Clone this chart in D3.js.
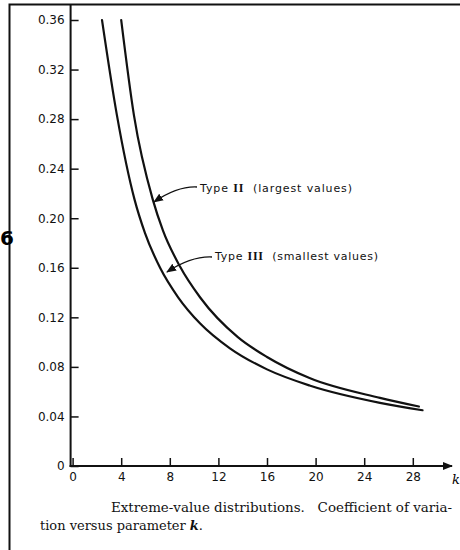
<!DOCTYPE html>
<html>
<head>
<meta charset="utf-8">
<script src="https://cdn.jsdelivr.net/npm/d3@7"></script>
<style>
  body { margin: 0; background: #fff; }
  svg { display: block; }
  .tick text { font-family: "DejaVu Sans", sans-serif; font-size: 12px; fill: #111; }
</style>
</head>
<body>
<svg id="chart" width="460" height="550"></svg>
<script>
// values
const typeIIk   = [4.0, 5.05, 6.6, 7.44, 8.84, 10.5, 13.6, 16, 19.5, 25.3, 28.5]
const typeIIcv  = [0.36, 0.283, 0.215, 0.19, 0.161, 0.136, 0.104, 0.088, 0.071, 0.055, 0.048]
const typeIIIk  = [2.42, 3.65, 5.1, 5.96, 7.2, 8.7, 10.5, 12.95, 16, 19.5, 25.3, 28.8]
const typeIIIcv = [0.36, 0.283, 0.215, 0.188, 0.16, 0.136, 0.115, 0.095, 0.078, 0.065, 0.051, 0.045]
const xTicks = [0, 4, 8, 12, 16, 20, 24, 28]
const yTicks = [0, 0.04, 0.08, 0.12, 0.16, 0.20, 0.24, 0.28, 0.32, 0.36]

const svg = d3.select("#chart")

const x = d3.scaleLinear().domain([0, 28]).range([72.6, 412.8])
const y = d3.scaleLinear().domain([0, 0.36]).range([466, 20])

// page frame from the scan
svg.append("path")
    .attr("d", "M9.5,550 L9.5,4.5 L460,4.5")
    .attr("fill", "none").attr("stroke", "#111").attr("stroke-width", 2)

// arrow marker
svg.append("defs").append("marker")
    .attr("id", "arr").attr("viewBox", "0 0 10 10")
    .attr("refX", 9).attr("refY", 5)
    .attr("markerWidth", 10).attr("markerHeight", 10)
    .attr("markerUnits", "userSpaceOnUse")
    .attr("orient", "auto")
  .append("path").attr("d", "M0,1 L10,5 L0,9 Z").attr("fill", "#111")

// y axis
let yAxis = svg.append("g")
    .attr("transform", `translate(${x(0) - 2},0)`)
    .call(d3.axisLeft(y).tickValues(yTicks)
        .tickSizeInner(-8).tickSizeOuter(0).tickPadding(6)
        .tickFormat(d => d === 0 ? "0" : d3.format(".2f")(d)))
yAxis.select(".domain").remove()
yAxis.selectAll("line").attr("stroke", "#111").attr("stroke-width", 1.5)
svg.append("line")
    .attr("x1", x(0) - 2).attr("x2", x(0) - 2)
    .attr("y1", 5).attr("y2", y(0) + 1)
    .attr("stroke", "#111").attr("stroke-width", 2)

// x axis
let xAxis = svg.append("g")
    .attr("transform", `translate(0,${y(0)})`)
    .call(d3.axisBottom(x).tickValues(xTicks)
        .tickSizeInner(-8).tickSizeOuter(0).tickPadding(6)
        .tickFormat(d3.format("d")))
xAxis.select(".domain").remove()
xAxis.selectAll("line").attr("stroke", "#111").attr("stroke-width", 1.5)
svg.append("line")
    .attr("x1", x(0) - 3).attr("x2", 452)
    .attr("y1", y(0)).attr("y2", y(0))
    .attr("stroke", "#111").attr("stroke-width", 2)
    .attr("marker-end", "url(#arr)")
svg.append("text")
    .attr("x", 452).attr("y", y(0) + 18)
    .attr("font-family", "DejaVu Serif, serif").attr("font-style", "italic")
    .attr("font-size", 13).text("k")

// curves
const line = d3.line().curve(d3.curveMonotoneX)
    .x(d => x(d[0])).y(d => y(d[1]))
let seriesII = d3.zip(typeIIk, typeIIcv)
let seriesIII = d3.zip(typeIIIk, typeIIIcv)
for (let s of [seriesII, seriesIII]) {
    svg.append("path")
        .attr("fill", "none")
        .attr("stroke", "#111")
        .attr("stroke-width", 2.2)
        .attr("stroke-linecap", "round")
        .attr("d", line(s))
}

// labels with arrows
function label(tx, ty, width, numeral, rest, from, tip) {
    let t = svg.append("text")
        .attr("x", tx).attr("y", ty)
        .attr("font-family", "DejaVu Sans, sans-serif")
        .attr("font-size", 11).attr("fill", "#111")
    t.append("tspan").text("Type\u00a0")
    t.append("tspan").attr("font-family", "Liberation Serif, serif")
        .attr("font-weight", "bold").attr("font-size", 12).text(numeral)
    t.append("tspan").text("\u00a0\u00a0" + rest)
    t.attr("textLength", width).attr("lengthAdjust", "spacing")
    svg.append("path")
        .attr("d", `M${from[0]},${from[1]} Q${(from[0] + tip[0]) / 2 + 2},${from[1] - 1} ${tip[0]},${tip[1]}`)
        .attr("fill", "none").attr("stroke", "#111").attr("stroke-width", 1.3)
        .attr("marker-end", "url(#arr)")
}
label(200, 192, 152, "II", "(largest values)", [197, 187], [154, 202])
label(215, 260, 163, "III", "(smallest values)", [212, 257], [167, 272])

// caption
let cap = svg.append("g")
    .attr("font-family", "DejaVu Serif, serif")
    .attr("font-size", 12).attr("fill", "#111")
cap.append("text").attr("x", 111).attr("y", 512)
    .attr("textLength", 341).attr("lengthAdjust", "spacingAndGlyphs")
    .text("Extreme-value distributions.\u00a0\u00a0 Coefficient of varia-")
let l2 = cap.append("text").attr("x", 40).attr("y", 530)
    .attr("textLength", 163).attr("lengthAdjust", "spacingAndGlyphs")
l2.append("tspan").text("tion versus parameter ")
l2.append("tspan").attr("font-style", "italic").attr("font-weight", "bold").text("k")
l2.append("tspan").text(".")

// stray glyph at the left edge of the scan
svg.append("text")
    .attr("x", 0).attr("y", 245)
    .attr("font-family", "DejaVu Sans, sans-serif")
    .attr("font-size", 20).attr("font-weight", "bold")
    .text("6")
</script>
</body>
</html>
